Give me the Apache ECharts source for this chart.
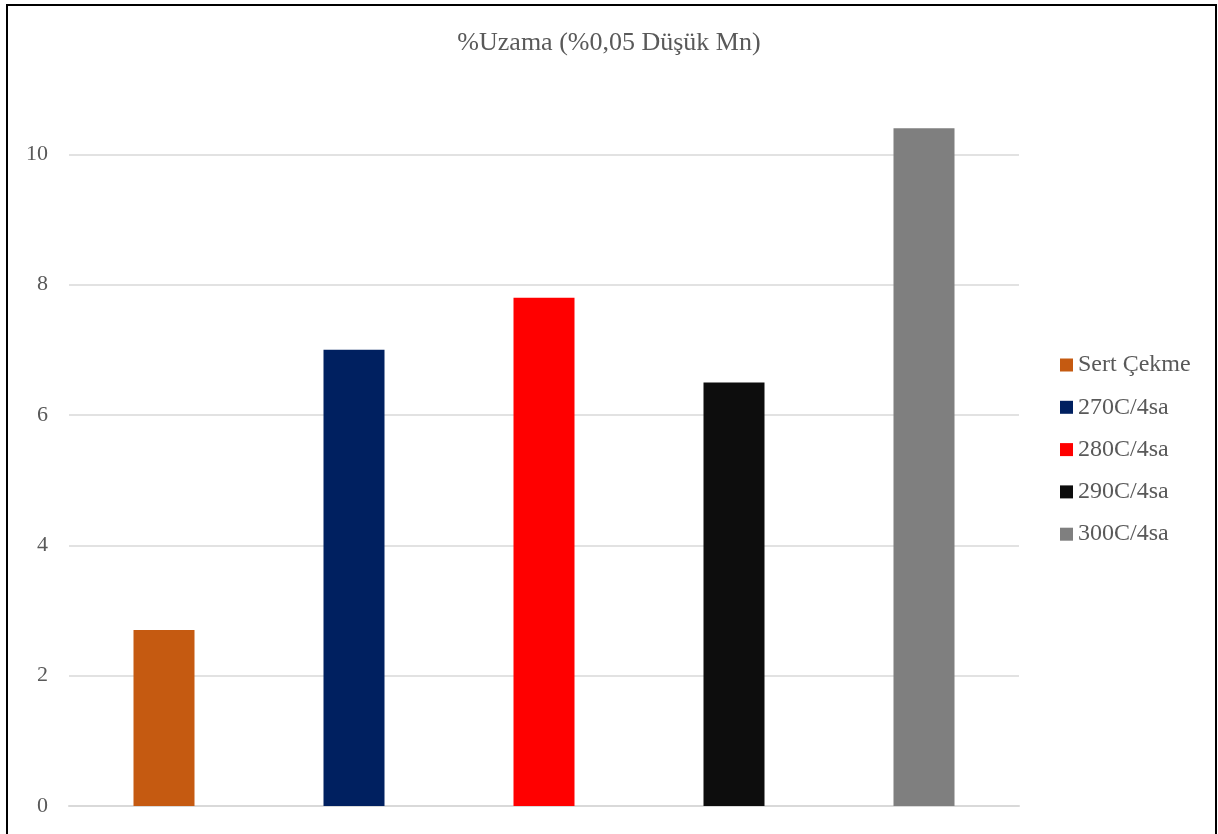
<!DOCTYPE html>
<html>
<head>
<meta charset="utf-8">
<script src="https://cdn.jsdelivr.net/npm/echarts@6/dist/echarts.min.js"></script>
<style>
  html, body { margin: 0; padding: 0; background: #fff; }
  #chart { width: 1218px; height: 834px; }
</style>
</head>
<body>
<div id="chart"></div>
<script>
// %Uzama grafiği
var categories = ['Sert Çekme', '270C/4sa', '280C/4sa', '290C/4sa', '300C/4sa'];
var values = [2.7, 7.0, 7.8, 6.5, 10.4];
var colors = ['#C55A11', '#002060', '#FF0000', '#0D0D0D', '#7F7F7F'];
var yTicks = [0, 2, 4, 6, 8, 10, 12];

var fontFam = 'Liberation Serif';

var series = categories.map(function (name, i) {
    var d = categories.map(function (c, j) { return j === i ? values[i] : '-'; });
    return {
        name: name,
        type: 'bar',
        stack: 'all',
        barWidth: 61,
        data: d,
        itemStyle: { color: colors[i] }
    };
});

var gridColors = yTicks.map(function (t) { return t === 12 ? 'rgba(0,0,0,0)' : '#d9d9d9'; });

var chart = echarts.init(document.getElementById('chart'));
var option = {
    animation: false,
    title: {
        text: '%Uzama (%0,05 Düşük Mn)',
        left: 'center',
        top: 25,
        textStyle: {
            fontFamily: fontFam,
            fontSize: 26,
            fontWeight: 'normal',
            color: '#595959'
        }
    },
    legend: {
        orient: 'vertical',
        left: 1060,
        top: 353,
        padding: 0,
        icon: 'rect',
        itemWidth: 13,
        itemHeight: 13,
        itemGap: 18.3,
        data: categories,
        textStyle: {
            fontFamily: fontFam,
            fontSize: 24,
            lineHeight: 24,
            color: '#595959'
        }
    },
    grid: {
        left: 69,
        right: 199,
        top: 24,
        bottom: 28,
        containLabel: false
    },
    xAxis: {
        type: 'category',
        data: categories,
        axisLine: { show: true, lineStyle: { color: '#d9d9d9', width: 2 } },
        axisTick: { show: false },
        axisLabel: { show: false }
    },
    yAxis: {
        type: 'value',
        min: 0,
        max: 12,
        interval: 2,
        axisLine: { show: false },
        axisTick: { show: false },
        axisLabel: {
            margin: 21,
            showMaxLabel: false,
            fontFamily: fontFam,
            fontSize: 22,
            color: '#595959'
        },
        splitLine: { lineStyle: { color: gridColors, width: 1.5 } }
    },
    graphic: [{
        type: 'rect',
        shape: { x: 7, y: 5, width: 1209, height: 900 },
        style: { fill: null, stroke: '#000', lineWidth: 2 },
        silent: true
    }],
    series: series
};
chart.setOption(option);
</script>
</body>
</html>
